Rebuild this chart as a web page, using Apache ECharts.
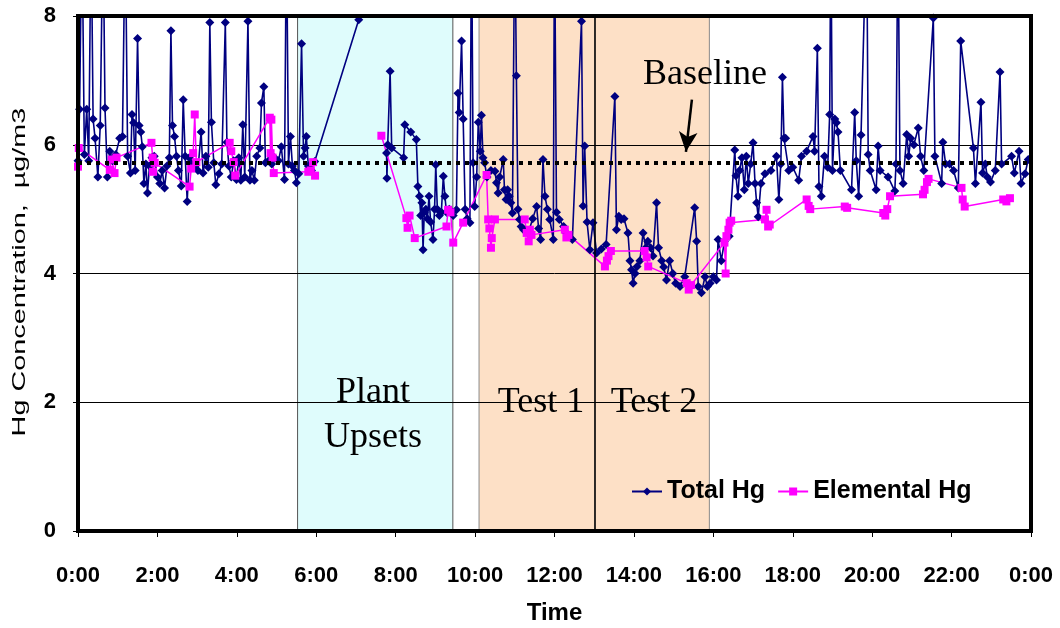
<!DOCTYPE html>
<html><head><meta charset="utf-8">
<script src="https://cdn.jsdelivr.net/npm/echarts@6/dist/echarts.min.js"></script>
<style>html,body{margin:0;padding:0;background:#fff}#c{width:1060px;height:628px}</style>
</head><body><div id="c"></div>
<script>
// ---- data (time in hours, concentration in ug/m3) ----
const totalHg = [
[0.00,5.75],[0.04,6.55],[0.10,9.5],[0.16,5.85],[0.22,6.55],[0.27,5.75],[0.33,9.5],[0.38,6.4],[0.43,6.1],[0.50,5.5],
[0.56,6.3],[0.63,9.5],[0.68,6.57],[0.74,5.5],[0.80,5.9],[0.87,5.75],[0.95,5.85],[1.05,6.1],[1.12,6.13],[1.19,9.5],
[1.25,5.82],[1.32,5.56],[1.36,6.47],[1.40,6.34],[1.44,5.6],[1.50,7.65],[1.54,6.3],[1.58,6.2],[1.62,5.97],[1.66,5.4],
[1.71,5.7],[1.75,5.25],[1.80,5.67],[1.86,5.8],[1.92,5.82],[2.00,5.5],[2.06,5.4],[2.12,5.6],[2.18,5.33],[2.24,5.67],
[2.30,5.8],[2.34,7.77],[2.38,6.3],[2.43,6.13],[2.48,5.82],[2.53,5.6],[2.60,5.36],[2.65,6.7],[2.70,5.82],[2.75,5.12],
[2.80,5.8],[2.86,5.7],[2.95,5.67],[3.02,5.6],[3.10,6.2],[3.15,5.56],[3.22,5.82],[3.28,5.65],[3.32,7.9],[3.36,6.35],
[3.42,5.72],[3.47,5.38],[3.55,5.55],[3.62,5.7],[3.71,7.9],[3.75,6.04],[3.80,5.67],[3.86,5.5],[3.92,5.75],[3.99,5.46],
[4.05,5.8],[4.10,5.45],[4.15,6.31],[4.20,5.5],[4.28,7.92],[4.33,5.45],[4.38,5.6],[4.44,5.45],[4.50,5.82],[4.58,5.95],
[4.62,6.65],[4.68,6.9],[4.72,5.72],[4.80,5.75],[4.88,5.7],[4.95,5.8],[5.05,5.75],[5.12,5.97],[5.20,5.46],[5.25,9.5],
[5.30,5.7],[5.35,6.13],[5.40,5.67],[5.45,5.6],[5.50,5.41],[5.56,5.55],[5.63,7.57],[5.68,5.82],[5.72,5.95],[5.75,6.13],
[5.80,5.67],[5.88,5.6],[5.96,5.74],[7.07,7.94],[7.40,null],[7.77,5.87],[7.78,5.48],[7.80,6.0],[7.86,7.14],[7.90,5.95],
[8.20,5.8],[8.23,6.31],[8.38,6.2],[8.52,6.08],[8.56,5.35],[8.60,5.2],[8.63,4.9],[8.66,5.1],[8.69,4.37],[8.72,4.95],
[8.76,5.0],[8.80,4.85],[8.84,5.2],[8.88,4.8],[8.94,4.53],[8.98,5.0],[9.01,5.69],[9.05,5.0],[9.10,4.9],[9.15,4.95],
[9.20,5.51],[9.24,5.2],[9.28,4.95],[9.35,5.0],[9.45,4.9],[9.53,4.99],[9.57,6.8],[9.60,6.5],[9.66,7.61],[9.70,6.4],
[9.75,5.0],[9.80,4.85],[9.87,4.79],[9.91,9.5],[9.95,5.72],[9.99,5.04],[10.04,5.5],[10.08,6.35],[10.13,5.9],[10.16,6.46],
[10.20,5.8],[10.24,5.72],[10.30,5.5],[10.40,5.6],[10.50,5.59],[10.54,5.41],[10.58,5.25],[10.62,5.5],[10.71,5.77],[10.74,5.3],
[10.78,5.15],[10.82,5.3],[10.86,5.2],[10.90,5.1],[10.94,4.94],[11.00,9.5],[11.04,7.07],[11.08,5.0],[11.12,4.84],[11.16,4.73],
[11.22,4.68],[11.34,4.63],[11.45,4.85],[11.55,5.04],[11.60,4.7],[11.65,4.53],[11.71,5.77],[11.76,5.2],[11.82,5.0],[11.88,4.84],
[11.97,4.53],[12.00,9.5],[12.05,4.95],[12.12,4.84],[12.23,4.73],[12.30,4.63],[12.45,4.53],[12.68,7.92],[12.72,5.05],[12.76,5.98],
[12.82,4.8],[12.89,4.37],[12.97,4.79],[13.06,4.32],[13.18,4.38],[13.30,4.45],[13.52,6.75],[13.56,4.68],[13.62,4.89],[13.68,4.84],
[13.75,4.85],[13.85,4.63],[13.90,4.2],[13.94,4.06],[13.98,3.85],[14.03,4.0],[14.08,4.11],[14.15,4.2],[14.23,4.63],[14.30,4.4],
[14.35,4.5],[14.42,4.4],[14.48,4.27],[14.57,5.1],[14.62,4.4],[14.70,4.2],[14.75,4.1],[14.82,3.9],[14.90,4.2],[14.98,4.0],
[15.05,3.85],[15.16,3.8],[15.28,3.95],[15.53,5.02],[15.58,4.5],[15.62,3.8],[15.70,3.7],[15.79,3.95],[15.85,3.8],[15.92,3.85],
[16.00,3.95],[16.08,3.9],[16.12,4.53],[16.20,4.2],[16.28,4.5],[16.40,4.58],[16.54,5.92],[16.57,5.52],[16.62,5.2],[16.66,5.6],
[16.72,5.8],[16.78,5.3],[16.83,5.82],[16.88,5.4],[16.94,5.7],[17.00,6.03],[17.05,5.4],[17.09,5.1],[17.13,4.88],[17.20,5.4],
[17.30,5.55],[17.45,5.6],[17.59,5.82],[17.65,5.15],[17.70,5.7],[17.74,7.05],[17.78,6.1],[17.82,6.1],[17.90,5.6],[18.00,5.65],
[18.15,5.45],[18.22,5.82],[18.35,5.9],[18.51,6.13],[18.55,5.9],[18.62,7.5],[18.66,5.35],[18.72,5.2],[18.80,5.82],[18.88,5.65],
[18.93,6.47],[18.96,9.5],[19.00,5.6],[19.06,6.4],[19.10,6.34],[19.14,6.2],[19.20,5.6],[19.48,5.3],[19.56,6.5],[19.60,5.75],
[19.66,5.2],[19.72,6.15],[19.86,9.5],[19.90,5.85],[19.95,5.6],[20.10,5.3],[20.15,5.98],[20.20,5.6],[20.40,5.5],[20.57,5.28],
[20.60,5.7],[20.65,9.5],[20.70,5.6],[20.78,5.4],[20.87,6.16],[20.92,5.82],[20.97,6.1],[21.05,6.0],[21.16,6.26],[21.22,5.82],
[21.30,5.6],[21.54,7.97],[21.58,5.82],[21.75,5.4],[21.78,6.04],[21.85,5.7],[21.95,5.7],[22.05,5.6],[22.17,5.33],[22.23,7.61],
[22.55,5.95],[22.60,5.4],[22.74,6.66],[22.78,5.56],[22.85,5.7],[22.90,5.5],[22.98,5.42],[23.10,5.6],[23.22,7.13],[23.26,5.7],
[23.51,5.82],[23.58,5.56],[23.70,5.9],[23.75,5.4],[23.85,5.55],[23.93,5.77]
];
const elementalHg = [
[0.00,5.66],[0.02,5.95],[0.80,5.61],[0.85,5.77],[0.92,5.56],[0.97,5.8],[1.85,6.03],[1.88,5.8],[1.89,5.58],[1.93,5.72],
[2.81,5.35],[2.85,5.63],[2.90,5.87],[2.94,6.47],[2.98,5.73],[3.82,6.03],[3.86,5.9],[3.92,5.73],[3.96,5.52],
[4.83,6.42],[4.85,5.87],[4.87,6.39],[4.90,5.8],[4.93,5.56],[5.80,5.58],[5.86,5.6],[5.92,5.73],[5.97,5.52],[6.8,null],
[7.64,6.14],[8.27,4.86],[8.30,4.71],[8.35,4.9],[8.48,4.55],[9.28,4.73],[9.32,4.99],[9.38,4.95],[9.45,4.48],[9.70,4.79],
[10.29,5.53],[10.33,4.84],[10.36,4.7],[10.40,4.4],[10.42,4.55],[10.50,4.84],[11.25,4.84],[11.30,4.63],[11.35,4.5],[11.38,4.68],
[11.42,4.6],[12.26,4.68],[12.30,4.56],[12.35,4.6],[13.27,4.11],[13.32,4.2],[13.36,4.27],[13.42,4.35],[14.27,4.35],[14.32,4.25],
[14.36,4.11],[15.33,3.85],[15.38,3.75],[15.44,3.82],[16.28,4.48],[16.31,4.0],[16.33,4.58],[16.38,4.68],[16.41,4.79],[16.45,4.82],
[17.30,4.84],[17.34,4.99],[17.38,4.73],[17.42,4.76],[18.35,5.15],[18.40,5.05],[18.44,5.0],[19.31,5.04],[19.37,5.02],
[20.28,4.94],[20.33,4.9],[20.38,5.0],[20.45,5.2],[21.28,5.23],[21.32,5.3],[21.38,5.42],[21.42,5.47],[22.25,5.33],[22.28,5.15],
[22.33,5.04],[23.30,5.15],[23.38,5.12],[23.47,5.17]
];
const baselineValue = 5.72;
const periods = [
  {name:'Plant Upsets', from:5.53, to:9.44, color:'#dffcfc', border:'#555555'},
  {name:'Test 1', from:10.1, to:13.02, color:'#fde0c6', border:'#8a8a8a'},
  {name:'Test 2', from:13.02, to:15.9, color:'#fde0c6', border:'#8a8a8a'}
];
const testBoundary = 13.02;
const arrowFrom = [15.46, 6.70], arrowTo = [15.31, 5.89];
const yAxisTitle = 'Hg Concentration,  µg/m3';

const chart = echarts.init(document.getElementById('c'), null, {renderer:'canvas'});
const sans = 'Liberation Sans, Arial, sans-serif';
const serif = 'Liberation Serif, Times New Roman, serif';

chart.setOption({
  animation:false,
  backgroundColor:'#fff',
  grid:{left:78, right:29, top:16, bottom:97, show:true, borderColor:'#000', borderWidth:4,
        backgroundColor:'transparent', z:4, containLabel:false, outerBoundsMode:'none'},
  legend:{
    data:['Total Hg','Elemental Hg'], left:626, top:474, itemWidth:30, itemHeight:10, itemGap:12,
    textStyle:{fontFamily:sans, fontWeight:'bold', fontSize:25, color:'#000'}
  },
  xAxis:{
    type:'value', min:0, max:24, interval:2,
    axisLine:{show:true, onZero:false, lineStyle:{color:'#000', width:4}},
    axisTick:{show:true, length:6, lineStyle:{color:'#000', width:1}},
    axisLabel:{margin:34, fontFamily:sans, fontWeight:'bold', fontSize:22, color:'#000',
      formatter:v => (v % 24) + ':00'},
    splitLine:{show:false},
    name:'Time', nameLocation:'middle', nameGap:70,
    nameTextStyle:{fontFamily:sans, fontWeight:'bold', fontSize:24, color:'#000'}
  },
  yAxis:{
    type:'value', min:0, max:8, interval:2, z:2,
    axisLine:{show:false},
    axisTick:{show:true, length:5, lineStyle:{color:'#000', width:1}},
    axisLabel:{margin:22, fontFamily:sans, fontWeight:'bold', fontSize:22, color:'#000'},
    splitLine:{show:true, lineStyle:{color:'#000', width:1}}
  },
  series:[
    {
      name:'periods', type:'line', data:[], z:1, silent:true,
      markArea:{silent:true, z:1, data: periods.map(p => [
        {xAxis:p.from, itemStyle:{color:p.color, borderColor:p.border, borderWidth:1}},
        {xAxis:p.to}
      ])}
    },
    {
      name:'Total Hg', type:'line', data: totalHg, z:3,
      symbol:'diamond', symbolSize:9, showAllSymbol:true, connectNulls:false,
      itemStyle:{color:'#000080'}, lineStyle:{color:'#000080', width:1.6},
      clip:true
    },
    {
      name:'Elemental Hg', type:'line', data: elementalHg, z:3,
      symbol:'rect', symbolSize:8, showAllSymbol:true, connectNulls:false,
      itemStyle:{color:'#ff00ff'}, lineStyle:{color:'#ff00ff', width:1.5},
      clip:true,
      markLine:{
        silent:true, symbol:['none','none'], label:{show:false},
        data:[
          {yAxis:baselineValue, lineStyle:{color:'#000', width:4, type:[4,5]}},
          {xAxis:testBoundary, lineStyle:{color:'#000', width:1.5, type:'solid'}},
          [
            {coord:arrowFrom, symbol:'none', lineStyle:{color:'#000', width:2.5, type:'solid'}},
            {coord:arrowTo, symbol:'arrow', symbolSize:[14,20]}
          ]
        ]
      }
    }
  ],
  graphic:[
    {type:'text', x:20, y:272, rotation:Math.PI/2, scaleX:1.6, z:10,
     style:{text:yAxisTitle, x:0, y:0, textAlign:'center', textVerticalAlign:'middle', font:'18px '+sans, fill:'#000'}},
    {type:'text', style:{text:'Baseline', x:705, y:75, textAlign:'center', textVerticalAlign:'middle', font:'36px '+serif, fill:'#000'}, z:10},
    {type:'text', style:{text:'Plant', x:373, y:393, textAlign:'center', textVerticalAlign:'middle', font:'36px '+serif, fill:'#000'}, z:10},
    {type:'text', style:{text:'Upsets', x:373, y:438, textAlign:'center', textVerticalAlign:'middle', font:'36px '+serif, fill:'#000'}, z:10},
    {type:'text', style:{text:'Test 1', x:541, y:403, textAlign:'center', textVerticalAlign:'middle', font:'36px '+serif, fill:'#000'}, z:10},
    {type:'text', style:{text:'Test 2', x:654, y:403, textAlign:'center', textVerticalAlign:'middle', font:'36px '+serif, fill:'#000'}, z:10}
  ]
});
</script>
</body></html>
